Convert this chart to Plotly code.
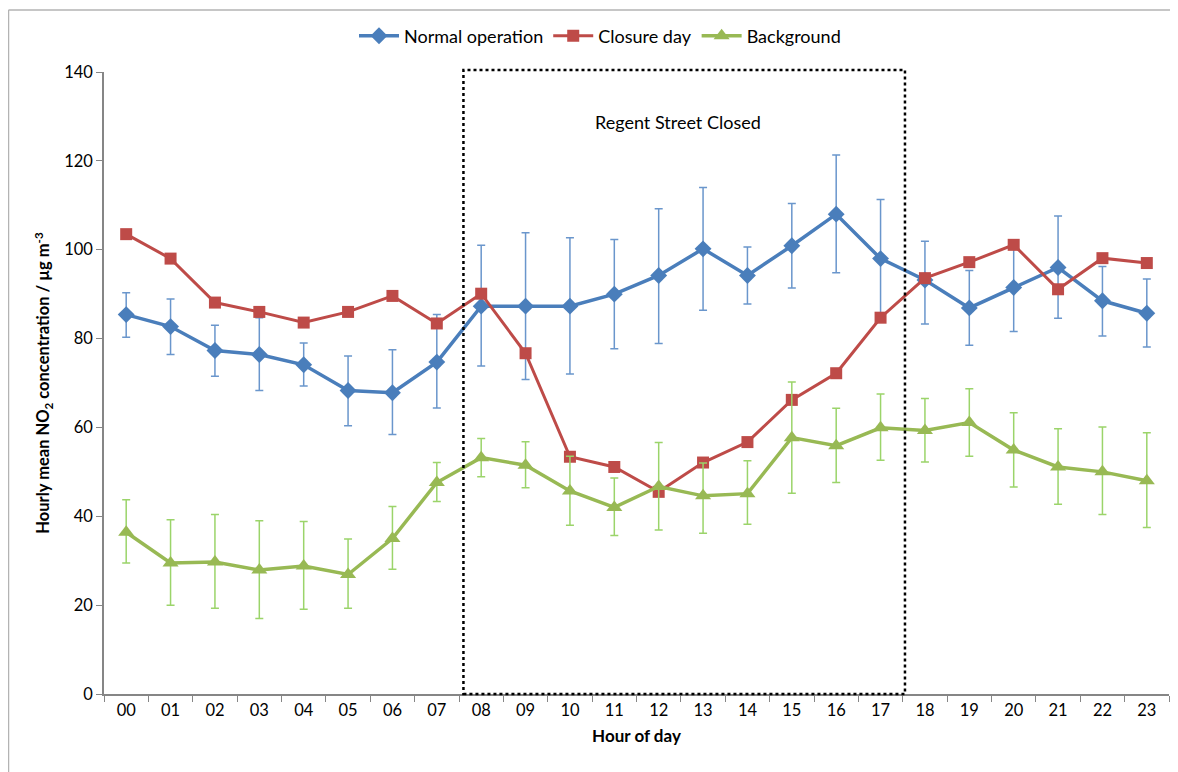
import plotly.graph_objects as go

hours = [f"{h:02d}" for h in range(24)]

normal = [85.4, 82.7, 77.3, 76.4, 74.1, 68.3, 67.8, 74.7, 87.3, 87.3, 87.3, 90.0,
          94.2, 100.2, 94.2, 100.9, 108.0, 98.0, 93.2, 86.9, 91.5, 96.0, 88.5, 85.7]
normal_hi = [90.3, 88.9, 83.0, 84.7, 79.0, 76.1, 77.5, 85.4, 101.0, 103.8, 102.7, 102.3,
             109.2, 114.0, 100.6, 110.4, 121.3, 111.3, 101.9, 95.3, 100.6, 107.6, 96.2, 93.4]
normal_lo = [80.3, 76.4, 71.5, 68.3, 69.3, 60.4, 58.4, 64.4, 73.8, 70.8, 72.0, 77.7,
             78.9, 86.4, 87.8, 91.4, 94.8, 84.6, 83.3, 78.5, 81.6, 84.6, 80.6, 78.1]

closure = [103.5, 98.0, 88.1, 86.0, 83.6, 86.0, 89.6, 83.4, 90.1, 76.7, 53.4, 51.1,
           45.5, 52.1, 56.7, 66.2, 72.2, 84.7, 93.6, 97.2, 101.1, 91.1, 98.1, 97.0]

background = [36.4, 29.5, 29.7, 27.9, 28.8, 26.9, 35.0, 47.6, 53.2, 51.5, 45.7, 42.0,
              46.7, 44.6, 45.1, 57.7, 55.9, 59.9, 59.3, 61.1, 54.9, 51.1, 50.0, 48.0]
background_hi = [43.7, 39.2, 40.4, 39.0, 38.8, 34.9, 42.2, 52.1, 57.5, 56.8, 53.5, 48.6,
                 56.6, 52.0, 52.5, 70.2, 64.3, 67.5, 66.5, 68.7, 63.3, 59.7, 60.1, 58.8]
background_lo = [29.5, 20.0, 19.3, 17.0, 19.1, 19.3, 28.1, 43.3, 48.9, 46.4, 38.0, 35.7,
                 36.9, 36.2, 38.2, 45.2, 47.6, 52.6, 52.2, 53.5, 46.6, 42.7, 40.4, 37.5]

FONT = "Lato"
OFF = 8  # page body margin offset
W, H = 1178 - OFF, 772 - OFF
ML, MR, MT, MB = 104 - OFF, 9, 72 - OFF, 78
pw = W - ML - MR
ph = H - MT - MB

def plus(v, hi):
    return [a - b for a, b in zip(hi, v)]

def minus(v, lo):
    return [b - a for a, b in zip(lo, v)]

fig = go.Figure()
fig.add_trace(go.Scatter(
    x=hours, y=normal, name="Normal operation", mode="lines+markers",
    line=dict(color="#4A7EBB", width=3.5),
    marker=dict(symbol="diamond", size=13, color="#4A7EBB"),
    error_y=dict(type="data", symmetric=False, array=plus(normal, normal_hi),
                 arrayminus=minus(normal, normal_lo), color="#6A96CC", thickness=1.5, width=4),
))
fig.add_trace(go.Scatter(
    x=hours, y=closure, name="Closure day", mode="lines+markers",
    line=dict(color="#BE4B48", width=3),
    marker=dict(symbol="square", size=12, color="#BE4B48"),
))
fig.add_trace(go.Scatter(
    x=hours, y=background, name="Background", mode="lines+markers",
    line=dict(color="#98B954", width=3.5),
    marker=dict(symbol="triangle-up", size=14, color="#98B954"),
    error_y=dict(type="data", symmetric=False, array=plus(background, background_hi),
                 arrayminus=minus(background, background_lo), color="#9BD46A", thickness=1.5, width=4),
))

# dotted "closed" period box
fig.add_shape(type="rect", xref="x", yref="paper", x0=7.6, x1=17.55, y0=0, y1=1 + 2 / ph,
              line=dict(color="black", width=2.5, dash="dot"), layer="above")
fig.add_annotation(x=12.43, y=128.7, xref="x", yref="y", text="Regent Street Closed",
                   showarrow=False, font=dict(family=FONT, size=18, color="black"))

# outer chart border (top and left edges only visible)
bx0 = (8.5 - OFF - ML) / pw
by1 = 1 + (MT - (10 - OFF)) / ph
fig.add_shape(type="line", xref="paper", yref="paper",
              x0=bx0, x1=(W - ML) / pw, y0=by1, y1=by1,
              line=dict(color="#B3B3B3", width=1.5))
fig.add_shape(type="line", xref="paper", yref="paper",
              x0=bx0, x1=bx0, y0=-MB / ph, y1=by1,
              line=dict(color="#B3B3B3", width=1.5))

fig.update_layout(
    width=W, height=H,
    margin=dict(l=ML, r=MR, t=MT, b=MB, autoexpand=False),
    paper_bgcolor="white", plot_bgcolor="white",
    font=dict(family=FONT, size=16, color="black"),
    showlegend=True,
    legend=dict(orientation="h", x=(600 - OFF - ML) / pw, xanchor="center",
                y=1 + (MT - (36 - OFF)) / ph, yanchor="middle",
                font=dict(family=FONT, size=18), bgcolor="rgba(0,0,0,0)",
                itemwidth=40, traceorder="normal"),
)
fig.update_xaxes(
    type="category", range=[-0.5, 23.5], tickson="boundaries",
    ticks="outside", ticklen=6, tickcolor="#868686",
    showline=True, linecolor="#868686", linewidth=1.5,
    showgrid=False, zeroline=False,
    tickfont=dict(family=FONT, size=16.5),
    title=dict(text="<b>Hour of day</b>", font=dict(family=FONT, size=17), standoff=12),
)
fig.update_yaxes(
    range=[0, 140], tickvals=[0, 20, 40, 60, 80, 100, 120, 140],
    ticks="outside", ticklen=6, tickcolor="#868686",
    showline=True, linecolor="#868686", linewidth=1.5,
    showgrid=False, zeroline=False,
    tickfont=dict(family=FONT, size=16.5),
    title=dict(text="<b>Hourly mean NO<sub>2</sub> concentration / µg m<sup>-3</sup></b>",
               font=dict(family=FONT, size=16.5), standoff=10),
)

fig.write_html("out.html")
